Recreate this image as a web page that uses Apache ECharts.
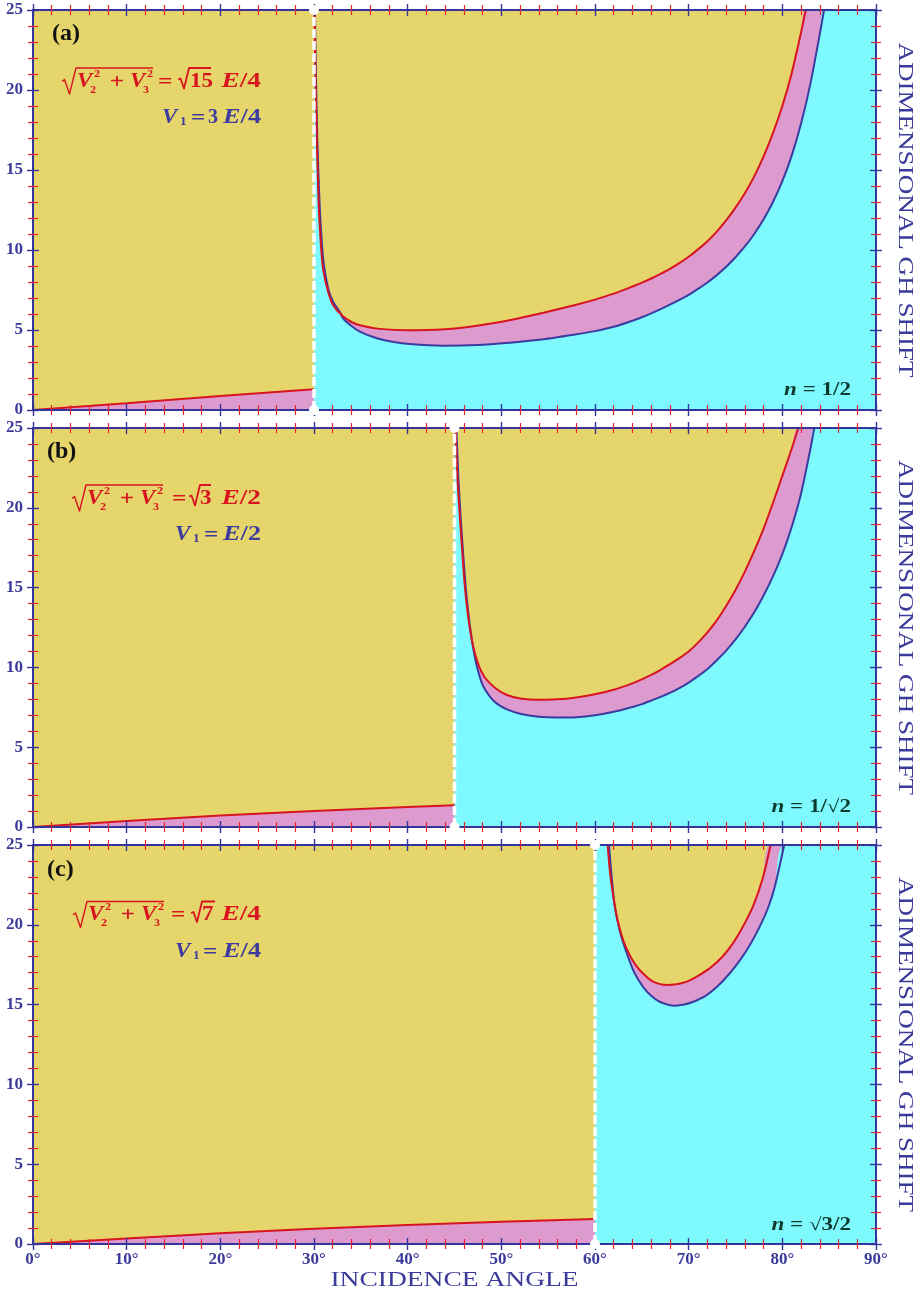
<!DOCTYPE html>
<html><head><meta charset="utf-8">
<script src="https://cdn.jsdelivr.net/npm/echarts@6/dist/echarts.min.js"></script>
<style>html,body{margin:0;padding:0;background:#fff}#c{width:923px;height:1293px}</style>
</head><body><div id="c"></div>
<script>
// ---------------- DATA ----------------
const criticalAngles = [30, 45, 60];
const xRange = [0, 90];
const yRange = [0, 25];
const panelTags = ['(a)', '(b)', '(c)'];
const radicandNums = ['15', '3', '7'];
const redTails = ['E/4', 'E/2', 'E/4'];
const blueCoefs = ['3', '', ''];
const blueTails = ['E/4', 'E/2', 'E/4'];
const nTexts = [' = 1/2', ' = 1/\u221A2', ' = \u221A3/2'];

// panel (a)
const lowRedA = [[0,0],[10,0.42],[20,0.87],[30,1.29]];
const upRedA = [[30.05,25],[30.15,21],[30.3,17],[30.5,12.8],[30.8,9.8],[31.0,8.7],[31.5,7.4],[32,6.6],[33,5.9],[34,5.5],[35,5.28],[37,5.07],[40,4.98],[44,5.05],[47.4,5.27],[51,5.63],[54.5,6.08],[58,6.58],[60,6.9],[62,7.27],[64,7.72],[65,7.96],[66,8.22],[67,8.51],[68,8.82],[69,9.18],[70,9.58],[71,10.04],[72,10.55],[73,11.15],[74,11.85],[75,12.65],[76,13.55],[77,14.6],[78,15.85],[79,17.3],[80,19.0],[81,21.05],[82,23.6],[82.5,25]];
const upBlueA = [[30.1,25],[30.2,21],[30.35,17],[30.6,12.8],[30.9,10],[31.1,8.9],[31.6,7.4],[32.1,6.7],[32.8,6.1],[33.1,5.73],[34,5.25],[34.9,4.9],[36.7,4.48],[38.5,4.25],[40.2,4.12],[43.8,4.02],[47.4,4.06],[50.9,4.21],[54.5,4.42],[58,4.73],[60,4.93],[62,5.2],[64,5.58],[65,5.8],[66,6.04],[67,6.3],[68,6.58],[69,6.88],[70,7.2],[71,7.57],[72,7.97],[73,8.43],[74,8.95],[75,9.55],[76,10.22],[77,11.0],[78,11.92],[79,13.0],[80,14.3],[81,15.9],[82,17.9],[83,20.4],[84,23.5],[84.45,25]];
// panel (b)
const lowRedB = [[0,0],[10,0.38],[20,0.72],[30,1.0],[40,1.25],[45,1.37]];
const upRedB = [[45.12,25],[45.3,22],[45.6,19.2],[46.1,15.1],[46.5,13],[47.0,11.3],[47.6,10.1],[48.2,9.4],[48.8,9.0],[49.6,8.6],[50.6,8.27],[52,8.05],[54,7.97],[56,8.0],[58,8.12],[60,8.32],[62,8.6],[64,9.0],[65,9.25],[66,9.53],[67,9.85],[68,10.2],[69,10.58],[70,11.0],[71,11.55],[72,12.2],[73,12.95],[74,13.85],[75,14.85],[76,16.0],[77,17.3],[78,18.7],[79,20.3],[80,22.0],[81,23.7],[81.7,25]];
const upBlueB = [[45.2,25],[45.4,22],[45.7,19],[46.2,15],[46.6,12.8],[47.0,11.2],[47.4,10.04],[48.0,8.9],[48.8,8.16],[49.6,7.7],[50.6,7.37],[52,7.1],[54,6.91],[56,6.86],[58,6.88],[60,7.0],[62,7.22],[64,7.52],[65,7.7],[66,7.92],[67,8.15],[68,8.4],[69,8.7],[70,9.05],[71,9.45],[72,9.9],[73,10.45],[74,11.05],[75,11.75],[76,12.55],[77,13.45],[78,14.5],[79,15.7],[80,17.1],[81,18.8],[82,20.9],[83,23.7],[83.4,25]];
// panel (c)
const lowRedC = [[0,0],[10,0.35],[20,0.67],[30,0.95],[40,1.19],[50,1.4],[60,1.57]];
const upRedC = [[61.35,25],[61.6,23.3],[61.95,21.8],[62.4,20.3],[63.0,19.05],[63.7,18.1],[64.45,17.4],[65.3,16.85],[66.2,16.44],[67.65,16.23],[68.7,16.28],[69.8,16.44],[71,16.8],[72.3,17.3],[73.6,18.0],[74.8,18.9],[75.9,20.0],[76.9,21.2],[77.9,22.9],[78.75,25]];
const upBlueC = [[61.5,25],[61.75,23.2],[62.1,21.2],[62.7,19.5],[63.4,18.2],[64.2,17.0],[65.15,16.1],[66.0,15.55],[66.9,15.18],[68.5,14.93],[69.5,15.0],[70.5,15.18],[71.8,15.55],[73.0,16.1],[74.3,16.9],[75.5,17.8],[76.6,18.8],[77.6,19.9],[78.5,21.1],[79.2,22.4],[80.2,25]];

const lowRed = [lowRedA, lowRedB, lowRedC];
const upRed = [upRedA, upRedB, upRedC];
const upBlue = [upBlueA, upBlueB, upBlueC];

// ---------------- STYLE ----------------
const YELLOW = '#E6D56A', CYAN = '#7EFAFF', PINK = '#DD9ACE';
const RED = '#D7141F', BLUE = '#3B3BA0', AXIS = '#34349A', TICKRED = '#E3262E', LABEL = '#3A3A9A', NCOL = '#0C3A2C';
const SERIF = '"Liberation Serif", "Times New Roman", serif';
const layout = [{top: 10, height: 400}, {top: 428, height: 399}, {top: 845, height: 399}];
const LEFT = 33, WIDTH = 843;
const SMOOTH = 0.25;

const grids = [], xAxes = [], yAxes = [], series = [], graphics = [];

function tickCfg(inside, showLabel, isX) {
  return {
    axisTick: {show: true, inside: inside, length: 6, lineStyle: {color: AXIS, width: 1.4}},
    minorTick: {show: true, splitNumber: 5, length: 5, lineStyle: {color: TICKRED, width: 1.2}},
    axisLabel: {show: showLabel, margin: isX ? 7 : 10, color: LABEL, fontFamily: SERIF, fontWeight: 'bold', fontSize: 17,
      showMinLabel: true, showMaxLabel: true,
      formatter: isX ? (v => v + '\u00B0') : (v => String(v))}
  };
}

layout.forEach((L, g) => {
  grids.push({left: LEFT, top: L.top, width: WIDTH, height: L.height, backgroundColor: YELLOW, show: true, borderWidth: 0, containLabel: false, outerBoundsMode: 'none'});
  const xc = {gridIndex: g, type: 'value', min: xRange[0], max: xRange[1], interval: 10, splitLine: {show: false}, z: 5};
  const yc = {gridIndex: g, type: 'value', min: yRange[0], max: yRange[1], interval: 5, splitLine: {show: false}, z: 5};
  const lineOn = {show: true, onZero: false, lineStyle: {color: AXIS, width: 2}};
  const lineOff = {show: false, onZero: false};
  xAxes.push(Object.assign({}, xc, {position: 'bottom', axisLine: lineOn}, tickCfg(false, g === 2, true)));
  xAxes.push(Object.assign({}, xc, {position: 'bottom', axisLine: lineOff}, tickCfg(true, false, true)));
  xAxes.push(Object.assign({}, xc, {position: 'top', axisLine: lineOn}, tickCfg(false, false, true)));
  xAxes.push(Object.assign({}, xc, {position: 'top', axisLine: lineOff}, tickCfg(true, false, true)));
  yAxes.push(Object.assign({}, yc, {position: 'left', axisLine: lineOn}, tickCfg(false, true, false)));
  yAxes.push(Object.assign({}, yc, {position: 'left', axisLine: lineOff}, tickCfg(true, false, false)));
  yAxes.push(Object.assign({}, yc, {position: 'right', axisLine: lineOn}, tickCfg(false, false, false)));
  yAxes.push(Object.assign({}, yc, {position: 'right', axisLine: lineOff}, tickCfg(true, false, false)));

  const ax = {xAxisIndex: g * 4, yAxisIndex: g * 4, showSymbol: false, silent: true, emphasis: {disabled: true}, animation: false};
  const tc = criticalAngles[g];
  const fill = (data, color, z, sm) => Object.assign({type: 'line', data: data, z: z, smooth: sm,
    lineStyle: {opacity: 0, width: 0}, areaStyle: {color: color, opacity: 1, origin: 'start'}}, ax);
  const line = (data, color, z, sm) => Object.assign({type: 'line', data: data, z: z, smooth: sm,
    lineStyle: {color: color, width: 2}}, ax);
  series.push(fill(lowRed[g], PINK, 1, false));
  series.push(fill([[tc, yRange[1]]].concat(upRed[g], [[xRange[1], yRange[1]]]), PINK, 1, SMOOTH));
  series.push(fill([[tc, yRange[1]]].concat(upBlue[g], [[xRange[1], yRange[1]]]), CYAN, 1.5, SMOOTH));
  series.push(line(upBlue[g], BLUE, 3, SMOOTH));
  series.push(line(upRed[g], RED, 3.5, SMOOTH));
  series.push(line(lowRed[g], RED, 3.5, false));
  series.push(Object.assign({}, ax, {type: 'line', data: [[tc, yRange[0]], [tc, yRange[1]]], z: 10, clip: false,
    showSymbol: true, symbol: 'circle', symbolSize: 10, itemStyle: {color: '#FFFFFF', borderWidth: 0},
    lineStyle: {color: '#FFFFFF', width: 3.5, type: [9, 3]}}));
});

// ---------------- TEXT ----------------
function T(x, y, text, size, color, o) {
  o = o || {};
  return {type: 'text', x: x, y: y, z: 100, silent: true, scaleX: o.sx || 1, rotation: o.rot || 0,
    style: {text: text, fill: color, font: (o.italic ? 'italic ' : '') + (o.normal ? '' : 'bold ') + size + 'px ' + SERIF,
      align: o.align || 'left', textAlign: o.align || 'left', verticalAlign: 'middle', textVerticalAlign: 'middle', rich: o.rich}};
}
function P(points, color, w) {
  return {type: 'polyline', z: 100, silent: true, shape: {points: points}, style: {stroke: color, lineWidth: w, fill: null, lineJoin: 'round'}};
}
function richFor(color, size) {
  return {i: {font: 'italic bold ' + size + 'px ' + SERIF, fill: color}, u: {font: 'bold ' + size + 'px ' + SERIF, fill: color}};
}

const tagY = [34, 452, 870], tagX = [52, 47, 47];
const fy = [81.5, 498.5, 915], fdx = [0, 10, 11];
const eqX = [158, 172, 171], radX = [178, 189, 191], numX = [190, 200, 202], vincEnd = [211, 211, 215];
const v1Y = [118, 535, 952], v1X = [162, 175, 175], v1Eq = [191, 204, 203], v1Coef = [208, 0, 0];
const nY = [390, 807, 1225];
const SX = 1.15;

for (let p = 0; p < 3; p++) {
  graphics.push(T(tagX[p], tagY[p], panelTags[p], 24, '#111111'));
  const y = fy[p], d = fdx[p];
  graphics.push(P([[62 + d, y], [64.5 + d, y - 2], [69.5 + d, y + 12.5], [76 + d, y - 13.5], [153 + d, y - 13.5]], RED, 1.4));
  graphics.push(T(77 + d, y, 'V', 20, RED, {italic: true, sx: SX}));
  graphics.push(T(94 + d, y - 7.5, '2', 11, RED, {sx: 1.1}));
  graphics.push(T(90 + d, y + 8.5, '2', 11, RED, {sx: 1.1}));
  graphics.push(T(117 + d, y + 1, '+', 21, RED, {align: 'center', sx: 1.2}));
  graphics.push(T(130 + d, y, 'V', 20, RED, {italic: true, sx: SX}));
  graphics.push(T(147 + d, y - 7.5, '2', 11, RED, {sx: 1.1}));
  graphics.push(T(143 + d, y + 8.5, '3', 11, RED, {sx: 1.1}));
  graphics.push(T(eqX[p], y + 1, '=', 21, RED, {sx: 1.2}));
  const r = radX[p];
  graphics.push(P([[r, y - 2], [r + 2.5, y - 3], [r + 6, y + 7], [r + 11, y - 13.5], [vincEnd[p], y - 13.5]], RED, 1.8));
  graphics.push(T(numX[p], y, radicandNums[p], 20, RED, {sx: SX}));
  graphics.push(T(261, y, '{i|' + redTails[p][0] + '}{u|' + redTails[p].slice(1) + '}', 21, RED, {align: 'right', sx: 1.3, rich: richFor(RED, 21)}));
  // V1 line
  const yb = v1Y[p];
  graphics.push(T(v1X[p], yb, 'V', 20, BLUE, {italic: true, sx: SX}));
  graphics.push(T(v1X[p] + 18, yb + 4, '1', 12, BLUE, {sx: 1.1}));
  graphics.push(T(v1Eq[p], yb + 1, '=', 21, BLUE, {sx: 1.2}));
  if (blueCoefs[p]) graphics.push(T(v1Coef[p], yb, blueCoefs[p], 20, BLUE));
  graphics.push(T(261, yb, '{i|' + blueTails[p][0] + '}{u|' + blueTails[p].slice(1) + '}', 21, BLUE, {align: 'right', sx: 1.25, rich: richFor(BLUE, 21)}));
  // n label
  graphics.push(T(851, nY[p], '{i|n}{u|' + nTexts[p] + '}', 18, NCOL, {align: 'right', sx: 1.28, rich: richFor(NCOL, 18)}));
  // right title
  const cy = layout[p].top + layout[p].height / 2;
  graphics.push(T(905, cy, 'ADIMENSIONAL GH SHIFT', 22, LABEL, {align: 'center', normal: true, rot: -Math.PI / 2, sx: 1.23}));
}
graphics.push(T(454.5, 1280, 'INCIDENCE ANGLE', 22, LABEL, {align: 'center', normal: true, sx: 1.25}));

const chart = echarts.init(document.getElementById('c'), null, {renderer: 'canvas'});
chart.setOption({
  animation: false,
  backgroundColor: '#FFFFFF',
  grid: grids, xAxis: xAxes, yAxis: yAxes, series: series, graphic: {elements: graphics}
});
</script></body></html>
